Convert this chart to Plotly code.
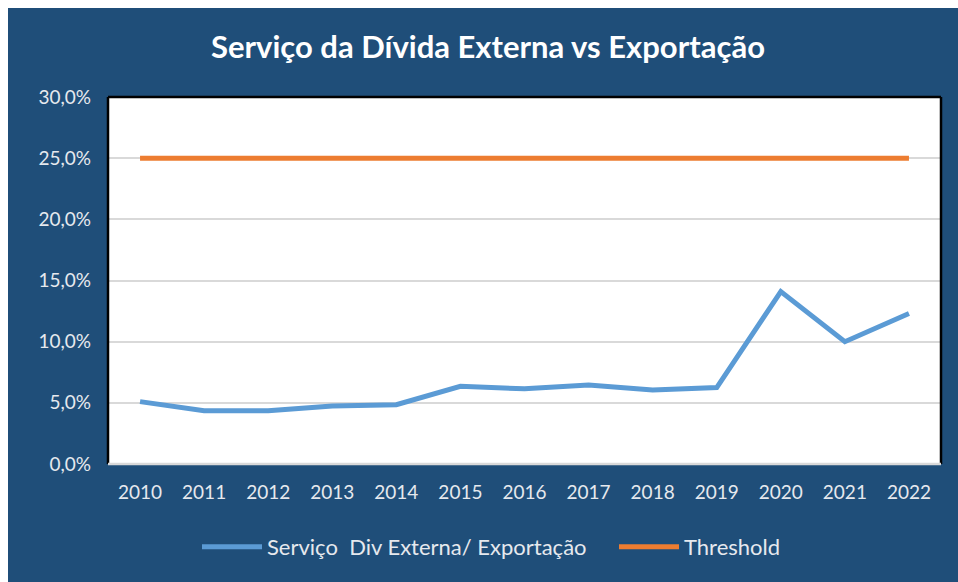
import plotly.graph_objects as go

years = ["2010", "2011", "2012", "2013", "2014", "2015", "2016", "2017", "2018", "2019", "2020", "2021", "2022"]
servico = [5.1, 4.35, 4.35, 4.75, 4.85, 6.35, 6.15, 6.45, 6.05, 6.25, 14.1, 10.0, 12.3]
threshold = [25.0] * 13
y_ticks = [0, 5, 10, 15, 20, 25, 30]
y_tick_labels = ["0,0%", "5,0%", "10,0%", "15,0%", "20,0%", "25,0%", "30,0%"]

BG = "#1F4E79"
FONT = "Lato, 'Open Sans', sans-serif"
TXT = "#E6E9EE"

fig = go.Figure()
fig.add_trace(go.Scatter(x=years, y=servico, mode="lines", name="Serviço  Div Externa/ Exportação",
                         line=dict(color="#5B9BD5", width=5), legend="legend"))
fig.add_trace(go.Scatter(x=years, y=threshold, mode="lines", name="Threshold",
                         line=dict(color="#ED7D31", width=5), legend="legend2"))

W, H = 950, 574
OFF = 8  # page offset of the figure
L, R, T, B = 108 - OFF, 941 - OFF, 97 - OFF, 464 - OFF
pw, ph = R - L, B - T

def px(x):
    return (x - OFF - L) / pw

def py(y):
    return (B - (y - OFF)) / ph

# plot frame: black left/top/right, light bottom
for x0, y0, x1, y1, c in [(0, 0, 0, 1, "black"), (0, 1, 1, 1, "black"), (1, 0, 1, 1, "black"),
                          (0, 0, 1, 0, "#D9D9D9")]:
    fig.add_shape(type="line", xref="paper", yref="paper", x0=x0, y0=y0, x1=x1, y1=y1,
                  line=dict(color=c, width=2.5), layer="above")

leg_common = dict(orientation="h", xanchor="left", yanchor="middle", y=py(547),
                  font=dict(family=FONT, size=22, color=TXT), bgcolor="rgba(0,0,0,0)",
                  itemwidth=60)

fig.update_layout(
    width=W, height=H,
    margin=dict(l=L, r=W - R, t=T, b=H - B),
    paper_bgcolor=BG,
    plot_bgcolor="white",
    title=dict(text="<b>Serviço da Dívida Externa vs Exportação</b>", x=((488 - OFF) / W), xanchor="center",
               y=1 - (47 - OFF) / H, yanchor="middle", font=dict(family=FONT, size=31, color="white")),
    xaxis=dict(type="category", range=[-0.5, 12.5], showgrid=False, ticks="",
               tickfont=dict(family=FONT, size=19, color=TXT), showline=False,
               zeroline=False, fixedrange=True, ticklabelstandoff=15),
    yaxis=dict(range=[0, 30], tickvals=y_ticks, ticktext=y_tick_labels, showgrid=True,
               gridcolor="#D9D9D9", gridwidth=2, ticks="", zeroline=False,
               tickfont=dict(family=FONT, size=19, color=TXT), ticklabelstandoff=16,
               fixedrange=True),
    legend=dict(x=px(197), **leg_common),
    legend2=dict(x=px(614), **leg_common),
    showlegend=True,
)

fig.write_html("out.html",
               post_script="document.body.style.marginRight='0';document.body.style.marginBottom='0';"
                           "document.documentElement.style.overflow='hidden';")
